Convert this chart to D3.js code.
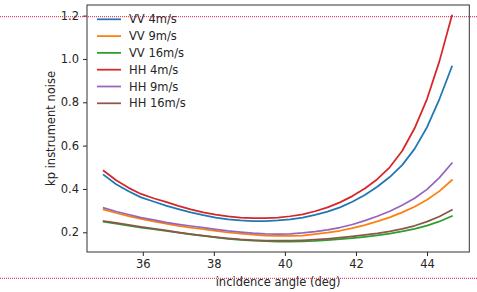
<!DOCTYPE html>
<html>
<head>
<meta charset="utf-8">
<script src="https://cdn.jsdelivr.net/npm/d3@7"></script>
<style>
body { margin: 0; background: #fff; }
text { font-family: "DejaVu Sans", sans-serif; fill: #262626; }
</style>
</head>
<body>
<script>
// incidence angle (deg)
var angles = [34.9, 35.25, 35.6, 35.95, 36.3, 36.65, 37.0, 37.35, 37.7, 38.05,
	38.4, 38.75, 39.1, 39.45, 39.8, 40.15, 40.5, 40.85, 41.2, 41.55,
	41.9, 42.25, 42.6, 42.95, 43.3, 43.65, 44.0, 44.35, 44.7];

var vv4 = [0.465, 0.422, 0.389, 0.361, 0.342, 0.323, 0.307, 0.292, 0.279, 0.268,
	0.260, 0.255, 0.252, 0.252, 0.255, 0.260, 0.268, 0.280, 0.295, 0.315,
	0.341, 0.372, 0.410, 0.455, 0.510, 0.585, 0.685, 0.815, 0.965];
var vv9 = [0.305, 0.289, 0.275, 0.262, 0.250, 0.240, 0.230, 0.222, 0.214, 0.206,
	0.199, 0.194, 0.189, 0.185, 0.183, 0.183, 0.185, 0.191, 0.198, 0.207,
	0.219, 0.233, 0.250, 0.269, 0.292, 0.318, 0.350, 0.390, 0.441];
var vv16 = [0.249, 0.240, 0.231, 0.222, 0.214, 0.206, 0.198, 0.190, 0.183, 0.176,
	0.170, 0.165, 0.161, 0.159, 0.157, 0.157, 0.158, 0.160, 0.164, 0.168,
	0.173, 0.179, 0.186, 0.194, 0.204, 0.216, 0.231, 0.250, 0.275];
var hh4 = [0.484, 0.440, 0.405, 0.377, 0.357, 0.340, 0.322, 0.306, 0.292, 0.281,
	0.273, 0.268, 0.265, 0.265, 0.268, 0.274, 0.283, 0.297, 0.315, 0.338,
	0.367, 0.402, 0.445, 0.500, 0.575, 0.680, 0.815, 0.990, 1.200];
var hh9 = [0.313, 0.296, 0.282, 0.268, 0.257, 0.246, 0.237, 0.229, 0.221, 0.213,
	0.206, 0.201, 0.196, 0.193, 0.192, 0.193, 0.197, 0.203, 0.211, 0.222,
	0.236, 0.254, 0.274, 0.297, 0.325, 0.357, 0.398, 0.452, 0.519];
var hh16 = [0.252, 0.243, 0.234, 0.225, 0.217, 0.209, 0.200, 0.192, 0.185, 0.178,
	0.172, 0.167, 0.164, 0.162, 0.161, 0.161, 0.163, 0.166, 0.170, 0.175,
	0.181, 0.188, 0.195, 0.204, 0.216, 0.230, 0.249, 0.273, 0.303];

var seriesNames = ["VV 4m/s", "VV 9m/s", "VV 16m/s", "HH 4m/s", "HH 9m/s", "HH 16m/s"];
var seriesValues = [vv4, vv9, vv16, hh4, hh9, hh16];
var colors = ["#1f77b4", "#ff7f0e", "#2ca02c", "#d62728", "#9467bd", "#8c564b"];

var xTicks = [36, 38, 40, 42, 44];
var yTicks = [0.2, 0.4, 0.6, 0.8, 1.0, 1.2];

function translate(x, y) {
	return "translate(" + x + "," + y + ")";
}

// dimensions
var width = 477,
	height = 292,
	plotLeft = 87,
	plotRight = 469.3,
	plotTop = 5,
	plotBottom = 252,
	fontSize = 11.5;

var x = d3.scaleLinear().domain([34.43, 45.19]).range([plotLeft, plotRight]);
var y = d3.scaleLinear().domain([0.109, 1.249]).range([plotBottom, plotTop]);

var svg = d3.select("body").append("svg")
	.attr("width", width)
	.attr("height", height)
	.attr("xmlns", "http://www.w3.org/2000/svg");

var series = seriesNames.map(function (name, i) {
	return {
		name: name,
		color: colors[i],
		points: angles.map(function (a, j) { return [a, seriesValues[i][j]]; })
	};
});

var line = d3.line()
	.x(function (d) { return x(d[0]); })
	.y(function (d) { return y(d[1]); });

svg.append("g")
	.selectAll("path")
	.data(series)
	.enter()
	.append("path")
	.attr("d", function (d) { return line(d.points); })
	.attr("fill", "none")
	.attr("stroke", function (d) { return d.color; })
	.attr("stroke-width", 1.75)
	.attr("stroke-linejoin", "round")
	.attr("stroke-linecap", "square");

// axes
var xAxis = svg.append("g")
	.attr("transform", translate(0, plotBottom))
	.call(d3.axisBottom(x).tickValues(xTicks).tickFormat(d3.format("d")).tickSizeOuter(0).tickSize(4).tickPadding(4));
var yAxis = svg.append("g")
	.attr("transform", translate(plotLeft, 0))
	.call(d3.axisLeft(y).tickValues(yTicks).tickFormat(d3.format(".1f")).tickSizeOuter(0).tickSize(4).tickPadding(4));

[xAxis, yAxis].forEach(function (g) {
	g.select(".domain").remove();
	g.selectAll(".tick line").attr("stroke", "#262626").attr("stroke-width", 1);
	g.selectAll(".tick text")
		.style("font-size", fontSize + "px")
		.style("font-family", "DejaVu Sans")
		.attr("fill", "#262626");
});

// frame
svg.append("rect")
	.attr("x", plotLeft)
	.attr("y", plotTop)
	.attr("width", plotRight - plotLeft)
	.attr("height", plotBottom - plotTop)
	.attr("fill", "none")
	.attr("stroke", "#333")
	.attr("stroke-width", 1);

svg.append("text")
	.text("incidence angle (deg)")
	.attr("x", (plotLeft + plotRight) / 2)
	.attr("y", 286)
	.attr("text-anchor", "middle")
	.style("font-size", fontSize + "px");

svg.append("text")
	.text("kp instrument noise")
	.attr("transform", translate(55, (plotTop + plotBottom) / 2) + " rotate(-90)")
	.attr("text-anchor", "middle")
	.style("font-size", fontSize + "px");

// legend
var legend = svg.append("g")
	.selectAll("g")
	.data(series)
	.enter()
	.append("g")
	.attr("transform", function (d, i) { return translate(97, 19.3 + i * 16.8); });

legend.append("line")
	.attr("x1", 0)
	.attr("x2", 24)
	.attr("stroke", function (d) { return d.color; })
	.attr("stroke-width", 1.75);

legend.append("text")
	.text(function (d) { return d.name; })
	.attr("x", 32)
	.attr("dy", "0.35em")
	.style("font-size", fontSize + "px");

// dotted red guides across the picture
svg.append("g")
	.selectAll("line")
	.data([16.7, 278.3])
	.enter()
	.append("line")
	.attr("x1", 0)
	.attr("x2", width)
	.attr("y1", function (d) { return d; })
	.attr("y2", function (d) { return d; })
	.attr("stroke", "#d81b45")
	.attr("stroke-width", 1)
	.attr("stroke-dasharray", "1,1");
</script>
</body>
</html>
